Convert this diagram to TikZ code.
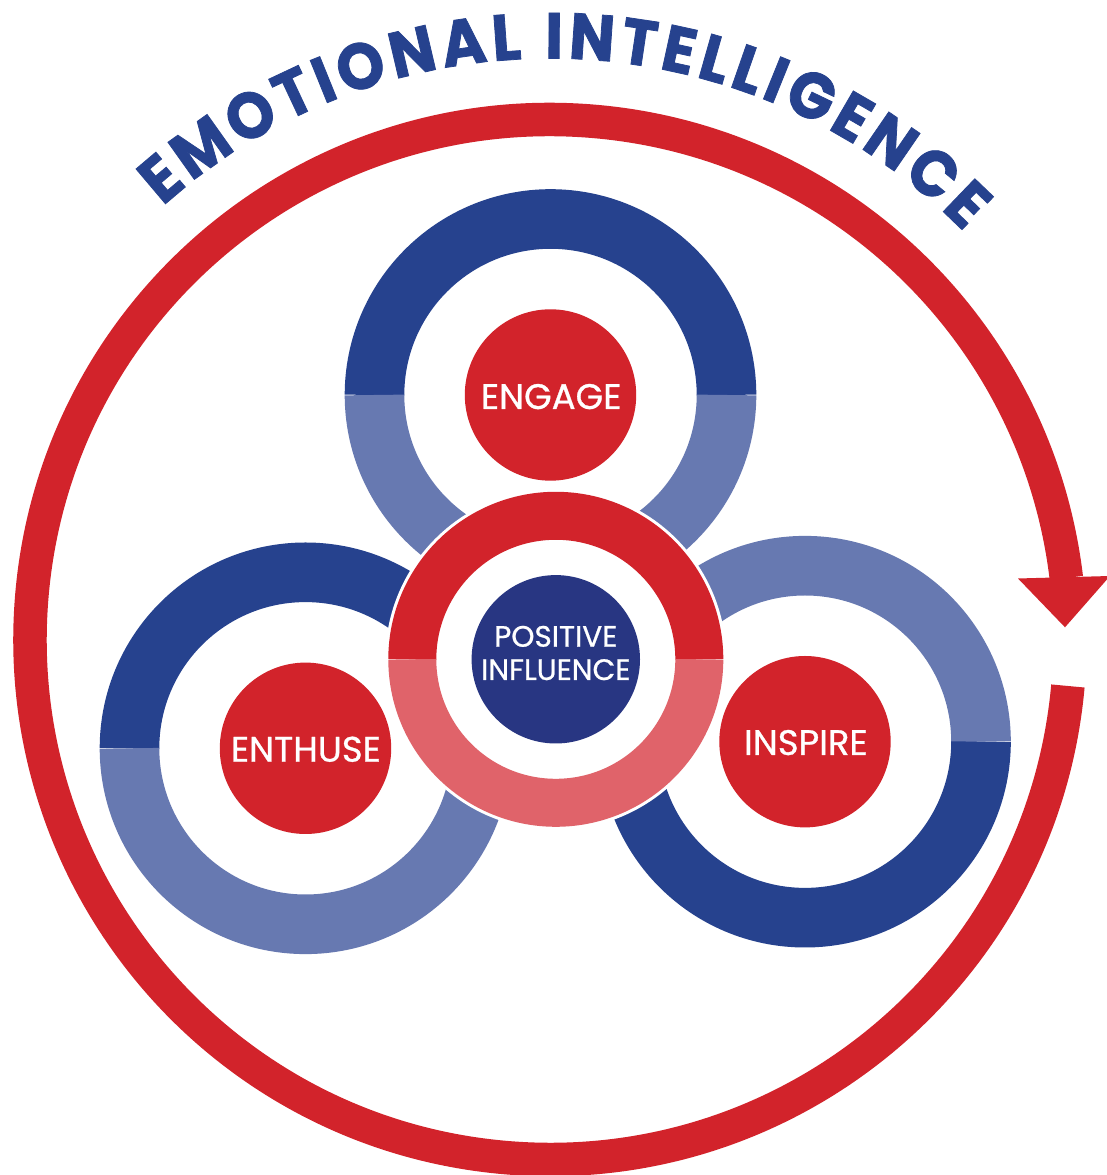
\documentclass[tikz,border=0pt]{standalone}
\usepackage{fontspec}
\setmainfont{Poppins}
\newfontfamily\arcfont[FakeStretch=0.93,FakeBold=1.2]{Poppins}
\newfontfamily\lblfont[FakeBold=0.8]{Poppins}
\usetikzlibrary{decorations.text}
\definecolor{eiblue}{HTML}{26428E}
\definecolor{eilight}{HTML}{6779B1}
\definecolor{eired}{HTML}{D2232B}
\definecolor{eipink}{HTML}{E0636A}
\definecolor{einavy}{HTML}{283682}
\begin{document}
\begin{tikzpicture}[x=1pt,y=1pt,
  bluering/.style={line width=59.6pt},
  redring/.style={line width=48pt},
  disc/.style={circle, fill=eired, minimum size=171.4pt, inner sep=0pt},
  lbl/.style={text=white, inner sep=0pt, anchor=base, font=\lblfont\fontsize{35.5}{35.5}\selectfont},
  lblsmall/.style={text=white, inner sep=0pt, anchor=base, font=\lblfont\fontsize{29.5}{29.5}\selectfont},
]
\useasboundingbox (0,0) rectangle (1107,1175);
\fill[white] (0,0) rectangle (1107,1175);

\coordinate (big) at (550,535.5);
\coordinate (cE) at (550.5,780);
\coordinate (cT) at (305.5,426.7);
\coordinate (cI) at (805,433.3);
\coordinate (cP) at (555.8,515.7);

% big circular arrow
\draw[line width=33.5pt, eired] (big) ++(-5.13:520pt) arc[start angle=-5.13, end angle=-353.2, radius=520pt];
\fill[eired] (1018,596.5) -- (1110,599) -- (1065,547.7) -- cycle;

% arc text
\path[decorate, decoration={text along path, text align={fit to path},
  text={|\arcfont\bfseries\fontsize{65}{65}\selectfont\color{eiblue}|EMOTIONAL INTELLIGENCE}}]
  (big) ++(131.8:581pt) arc[start angle=131.8, end angle=44.6, radius=581pt];

% ENGAGE ring
\draw[bluering, eiblue] (cE) ++(0:176pt) arc[start angle=0, end angle=180, radius=176pt];
\draw[bluering, eilight] (cE) ++(180:176pt) arc[start angle=180, end angle=360, radius=176pt];
% ENTHUSE ring
\draw[bluering, eiblue] (cT) ++(0:176pt) arc[start angle=0, end angle=180, radius=176pt];
\draw[bluering, eilight] (cT) ++(180:176pt) arc[start angle=180, end angle=360, radius=176pt];
% INSPIRE ring
\draw[bluering, eilight] (cI) ++(0:176pt) arc[start angle=0, end angle=180, radius=176pt];
\draw[bluering, eiblue] (cI) ++(180:176pt) arc[start angle=180, end angle=360, radius=176pt];

% centre ring
\fill[white] (cP) circle[radius=170.5pt];
\draw[redring, eired] (cP) ++(0:143.5pt) arc[start angle=0, end angle=180, radius=143.5pt];
\draw[redring, eipink] (cP) ++(180:143.5pt) arc[start angle=180, end angle=360, radius=143.5pt];

% discs
\node[disc] (engage) at (cE) {};
\node[disc] (enthuse) at (cT) {};
\node[disc] (inspire) at (cI) {};
\node[disc, fill=einavy, minimum size=168.4pt] (positive) at (cP) {};

% labels
\node[lbl] (engagetext) at (551.2,766) {ENGAGE};
\node[lbl] (enthusetext) at (305.9,413.3) {ENTHUSE};
\node[lbl] (inspiretext) at (805.9,420) {INSPIRE};
\node[lblsmall] (postext1) at (555.8,528.3) {POSITIVE};
\node[lblsmall] (postext2) at (555.8,495) {INFLUENCE};
\end{tikzpicture}
\end{document}
